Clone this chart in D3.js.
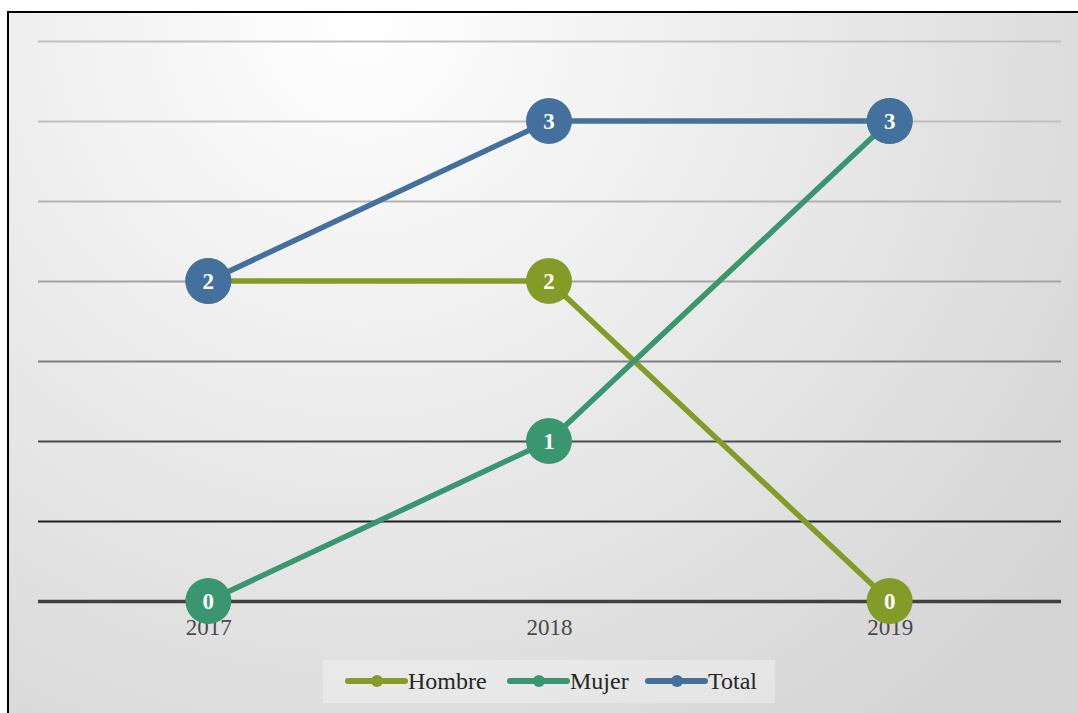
<!DOCTYPE html>
<html>
<head>
<meta charset="utf-8">
<script src="https://cdn.jsdelivr.net/npm/d3@7"></script>
<style>
  html, body { margin: 0; padding: 0; background: #ffffff; }
  svg { display: block; }
</style>
</head>
<body>
<svg id="chart" width="1078" height="713"></svg>
<script>
const categories = ["2017", "2018", "2019"];
const hombre = [2, 2, 0];
const mujer = [0, 1, 3];
const total = [2, 3, 3];
const seriesNames = ["Hombre", "Mujer", "Total"];
const seriesColors = ["#849b28", "#3a9670", "#44709e"];
const yTicks = [0, 0.5, 1, 1.5, 2, 2.5, 3, 3.5];
const gridColors = ["#404040", "#1f1f1f", "#4a4a4a", "#808080", "#a3a3a3", "#b3b3b3", "#bfbfbf", "#bfbfbf"];

const series = [hombre, mujer, total].map((vals, i) => ({
  name: seriesNames[i], color: seriesColors[i],
  values: categories.map((c, j) => ({ cat: c, v: vals[j] }))
}));

const W = 1078, H = 713;
const svg = d3.select("#chart");
const defs = svg.append("defs");
const grad = defs.append("radialGradient").attr("id", "bg")
  .attr("gradientUnits", "userSpaceOnUse")
  .attr("cx", 360).attr("cy", 20).attr("r", 900);
grad.append("stop").attr("offset", "0%").attr("stop-color", "#ffffff");
grad.append("stop").attr("offset", "100%").attr("stop-color", "#d4d4d4");

svg.append("rect").attr("x", 8).attr("y", 12).attr("width", W + 20).attr("height", H + 20)
  .attr("fill", "url(#bg)").attr("stroke", "#000").attr("stroke-width", 2);

const x = d3.scalePoint().domain(categories).range([38, 1060]).padding(0.5);
const y = d3.scaleLinear().domain([0, 3.5]).range([601, 41]);

// gridlines
const yAxis = d3.axisLeft(y).tickValues(yTicks).tickSize(-(1061 - 38)).tickFormat("");
const gy = svg.append("g").attr("transform", "translate(38,0)").call(yAxis);
gy.select(".domain").remove();
gy.selectAll(".tick line")
  .attr("stroke", (d, i) => gridColors[i])
  .attr("stroke-width", d => d === 0 ? 3.5 : 1.8);

// x axis labels
const xAxis = d3.axisBottom(x).tickSize(0).tickPadding(0);
const gx = svg.append("g").attr("transform", "translate(0,618)").call(xAxis);
gx.select(".domain").remove();
gx.selectAll("text")
  .attr("font-family", "'Liberation Serif', 'DejaVu Serif', serif")
  .attr("font-size", 23).attr("fill", "#4a4a4a").attr("dy", "0.75em");

const line = d3.line().x(d => x(d.cat)).y(d => y(d.v));

series.forEach(s => {
  svg.append("path").datum(s.values).attr("d", line)
    .attr("fill", "none").attr("stroke", s.color).attr("stroke-width", 5.5)
    .attr("stroke-linejoin", "round");
});
series.forEach(s => {
  const g = svg.append("g");
  g.selectAll("circle").data(s.values).join("circle")
    .attr("cx", d => x(d.cat)).attr("cy", d => y(d.v)).attr("r", 23)
    .attr("fill", s.color);
  g.selectAll("text").data(s.values).join("text")
    .attr("x", d => x(d.cat)).attr("y", d => y(d.v)).attr("dy", "0.35em")
    .attr("text-anchor", "middle")
    .attr("font-family", "'Liberation Serif', 'DejaVu Serif', serif")
    .attr("font-weight", "bold").attr("font-size", 23).attr("fill", "#ffffff")
    .text(d => d.v);
});

// legend
const legend = svg.append("g");
legend.append("rect").attr("x", 323).attr("y", 660).attr("width", 452).attr("height", 43)
  .attr("fill", "#ffffff").attr("fill-opacity", 0.3);
const legendX = [348, 510, 648];
series.forEach((s, i) => {
  const lx = legendX[i], ly = 681;
  legend.append("line").attr("x1", lx).attr("x2", lx + 57).attr("y1", ly).attr("y2", ly)
    .attr("stroke", s.color).attr("stroke-width", 6).attr("stroke-linecap", "round");
  legend.append("circle").attr("cx", lx + 29).attr("cy", ly).attr("r", 6).attr("fill", s.color);
  legend.append("text").attr("x", lx + 60).attr("y", ly).attr("dy", "0.35em")
    .attr("font-family", "'Liberation Serif', 'DejaVu Serif', serif")
    .attr("font-size", 24).attr("fill", "#262626").text(s.name);
});
</script>
</body>
</html>
